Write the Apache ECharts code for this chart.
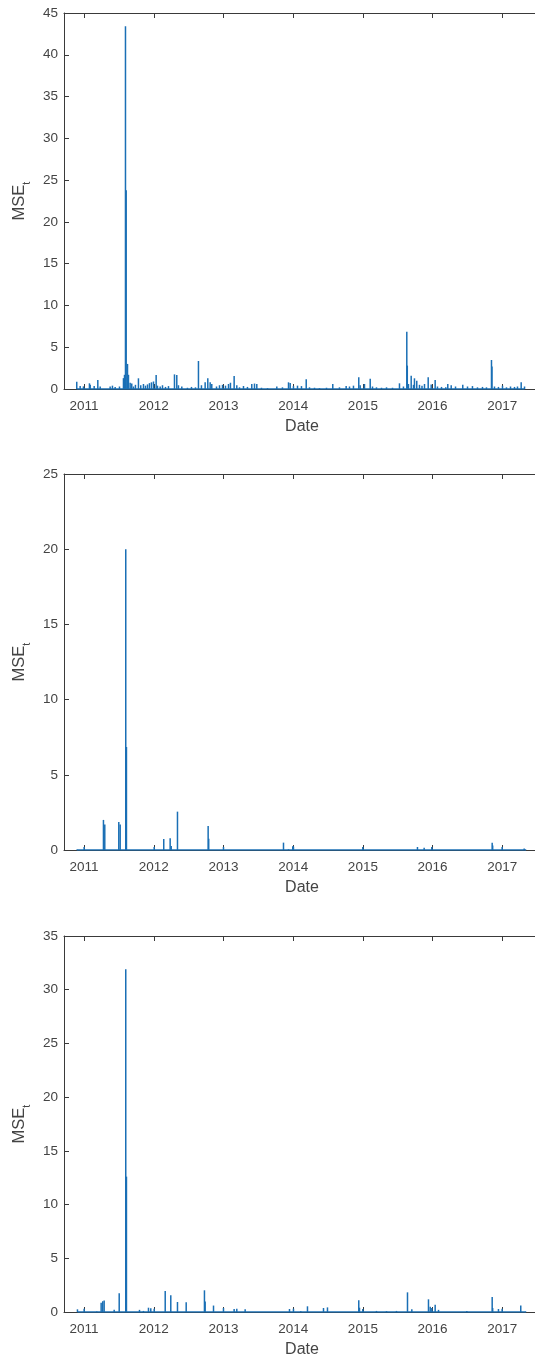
<!DOCTYPE html>
<html><head><meta charset="utf-8">
<script src="https://cdn.jsdelivr.net/npm/echarts@6/dist/echarts.min.js"></script>
<style>html,body{margin:0;padding:0;background:#fff}#c{width:535px;height:1361px}</style>
</head><body><div id="c"></div>
<script>
// Tick labels (years)
const yearTicks = [2011, 2012, 2013, 2014, 2015, 2016, 2017];
const xMin = 2010.712, xMax = 2017.541;
const yMaxes = [45, 25, 35];

// Panel 1: dates (decimal years) and MSE_t values
const dates1 = [2010.895,2010.944,2010.991,2011.077,2011.088,2011.145,2011.197,2011.231,2011.374,2011.407,2011.446,2011.508,2011.565,2011.580,2011.594,2011.604,2011.623,2011.637,2011.661,2011.684,2011.709,2011.737,2011.780,2011.813,2011.852,2011.881,2011.910,2011.938,2011.967,2011.996,2012.034,2012.053,2012.092,2012.125,2012.168,2012.211,2012.297,2012.330,2012.354,2012.402,2012.483,2012.541,2012.598,2012.641,2012.684,2012.737,2012.775,2012.809,2012.832,2012.900,2012.943,2012.986,2013.029,2013.072,2013.100,2013.153,2013.191,2013.230,2013.287,2013.344,2013.406,2013.445,2013.478,2013.545,2013.632,2013.765,2013.846,2013.933,2013.957,2014.004,2014.062,2014.119,2014.187,2014.234,2014.306,2014.377,2014.478,2014.568,2014.664,2014.760,2014.808,2014.865,2014.941,2014.961,2015.023,2015.105,2015.138,2015.195,2015.267,2015.339,2015.425,2015.525,2015.582,2015.630,2015.637,2015.654,2015.693,2015.726,2015.740,2015.773,2015.812,2015.848,2015.884,2015.937,2015.980,2016.037,2016.070,2016.128,2016.189,2016.218,2016.267,2016.329,2016.433,2016.501,2016.572,2016.644,2016.716,2016.773,2016.845,2016.852,2016.888,2016.945,2017.003,2017.060,2017.118,2017.175,2017.218,2017.271,2017.319];
const vals1 = [0.88,0.36,0.32,0.68,0.5,0.36,1.08,0.3,0.3,0.4,0.25,0.3,1.3,1.7,43.4,23.8,3.0,1.7,0.75,0.67,0.3,0.5,1.28,0.45,0.6,0.4,0.55,0.7,0.8,0.9,1.67,0.4,0.3,0.45,0.25,0.35,1.75,1.67,0.45,0.3,0.15,0.25,0.2,3.35,0.45,0.8,1.28,0.8,0.6,0.3,0.45,0.5,0.4,0.6,0.75,1.55,0.45,0.2,0.36,0.25,0.6,0.65,0.6,0.15,0.1,0.3,0.2,0.8,0.72,0.35,0.4,0.35,1.16,0.2,0.15,0.1,0.15,0.6,0.2,0.36,0.3,0.4,1.4,0.45,0.6,1.24,0.3,0.2,0.15,0.2,0.15,0.68,0.3,6.86,2.8,0.6,1.6,0.5,1.28,1.0,0.5,0.4,0.6,1.4,0.55,1.08,0.3,0.25,0.2,0.6,0.45,0.3,0.5,0.3,0.35,0.2,0.25,0.2,3.47,2.7,0.3,0.25,0.4,0.2,0.3,0.25,0.3,0.8,0.3];

// Panel 2
const dates2 = [2010.895,2011.001,2011.278,2011.297,2011.498,2011.518,2011.598,2011.608,2012.006,2012.143,2012.235,2012.250,2012.340,2012.780,2012.788,2013.000,2013.861,2013.933,2013.994,2014.004,2014.999,2015.783,2015.879,2015.989,2016.855,2016.862,2016.998,2017.314,2017.340];
const vals2 = [0.02,0.2,2.0,1.7,1.86,1.7,20.0,6.85,0.2,0.73,0.78,0.27,2.55,1.6,0.75,0.2,0.49,0.05,0.25,0.22,0.2,0.2,0.15,0.2,0.49,0.3,0.2,0.1,0.02];

// Panel 3
const dates3 = [2010.905,2011.001,2011.182,2011.245,2011.268,2011.288,2011.432,2011.504,2011.598,2011.608,2011.795,2011.852,2011.924,2011.957,2012.006,2012.164,2012.244,2012.340,2012.465,2012.727,2012.737,2012.857,2013.000,2013.153,2013.191,2013.311,2013.947,2014.004,2014.109,2014.205,2014.435,2014.492,2014.941,2014.951,2014.999,2015.195,2015.339,2015.482,2015.640,2015.702,2015.941,2015.966,2015.989,2016.037,2016.085,2016.491,2016.855,2016.862,2016.945,2016.998,2017.265,2017.340];
const vals3 = [0.25,0.31,0.05,0.87,1.0,1.06,0.2,1.74,31.9,12.6,0.2,0.1,0.4,0.35,0.31,1.96,1.55,0.93,0.9,2.02,0.98,0.6,0.37,0.28,0.31,0.25,0.28,0.31,0.08,0.53,0.37,0.43,1.09,0.4,0.28,0.1,0.08,0.1,1.83,0.25,1.18,0.5,0.37,0.68,0.2,0.1,1.40,0.37,0.28,0.31,0.6,0.02];

const panels = [[dates1, vals1], [dates2, vals2], [dates3, vals3]];
const tops = [13, 474, 936];
const PH = 376;
const AX = '#3a3a3a';
const TXT = '#444444';
const FONT = '"Liberation Sans", Arial, Helvetica, sans-serif';
const BLUE = '#1a6fb5';

const grid = [], xAxis = [], yAxis = [], series = [];
panels.forEach(([d, v], i) => {
  grid.push({left: 64, top: tops[i], width: 476, height: PH, outerBoundsMode: 'none', containLabel: false});
  const base = {
    type: 'value', gridIndex: i, min: xMin, max: xMax,
    splitLine: {show: false},
    axisLine: {show: true, onZero: false, lineStyle: {color: AX, width: 1}},
    axisTick: {show: true, inside: true, length: 5, customValues: yearTicks, lineStyle: {color: AX}},
  };
  xAxis.push(Object.assign({}, base, {
    position: 'bottom',
    axisLabel: {show: true, customValues: yearTicks, margin: 10, fontSize: 13.5, color: TXT, fontFamily: FONT,
      formatter: val => String(Math.round(val))},
    name: 'Date', nameLocation: 'middle', nameGap: 30,
    nameTextStyle: {fontSize: 16, color: TXT, fontFamily: FONT}
  }));
  xAxis.push(Object.assign({}, base, {
    position: 'top', axisLabel: {show: false}
  }));
  yAxis.push({
    type: 'value', gridIndex: i, min: 0, max: yMaxes[i], interval: 5, position: 'left',
    splitLine: {show: false},
    axisLine: {show: true, onZero: false, lineStyle: {color: AX, width: 1}},
    axisTick: {show: true, inside: true, length: 5, lineStyle: {color: AX}},
    axisLabel: {margin: 6, fontSize: 13.5, color: TXT, fontFamily: FONT},
    name: '{a|MSE}{b|t}', nameLocation: 'middle', nameGap: 28, nameRotate: 90,
    nameTextStyle: {
      fontFamily: FONT, color: TXT,
      rich: {
        a: {fontSize: 16.5, lineHeight: 25, fontFamily: FONT, color: TXT},
        b: {fontSize: 11, lineHeight: 11, verticalAlign: 'bottom', fontFamily: FONT, color: TXT}
      }
    }
  });
  series.push({
    type: 'bar', xAxisIndex: 2 * i, yAxisIndex: i, barWidth: 1.5, silent: true,
    itemStyle: {color: BLUE}, animation: false,
    data: d.map((x, k) => [x, v[k]])
  });
  series.push({
    type: 'line', xAxisIndex: 2 * i, yAxisIndex: i, symbol: 'none', silent: true, animation: false,
    lineStyle: {color: BLUE, width: 1.5},
    data: [[d[0], 0], [d[d.length - 1], 0]]
  });
});

const chart = echarts.init(document.getElementById('c'), null, {renderer: 'canvas'});
chart.setOption({animation: false, grid, xAxis, yAxis, series});
</script></body></html>
